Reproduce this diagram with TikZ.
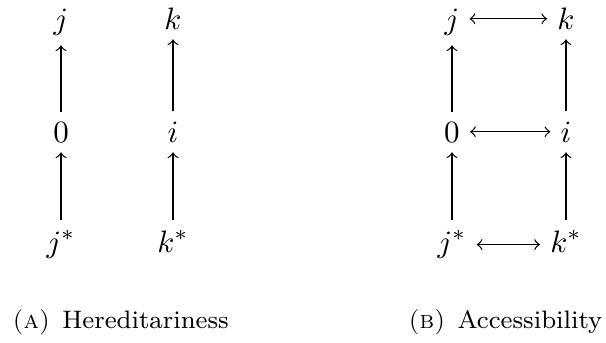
\documentclass[tikz,border=0pt]{standalone}
\begin{document}
\begin{tikzpicture}[x=0.3226pt,y=-0.3226pt,>=to,
  obj/.style={inner sep=0.333em,outer sep=0pt,anchor=base},
  captext/.style={inner sep=0pt,font=\fontsize{8.15}{10}\selectfont},
  arr/.style={->,line width=0.4pt},
  darr/.style={<->,line width=0.4pt}]
\useasboundingbox (0,0) rectangle (606,342);
% (A) Hereditariness
\node[obj] (aj)  at (61,29)  {$j$};
\node[obj] (ak)  at (173,29) {$k$};
\node[obj] (a0)  at (61,142) {$0$};
\node[obj] (ai)  at (173,142) {$i$};
\node[obj] (ajs) at (61,252) {$j^*$};
\node[obj] (aks) at (173,252) {$k^*$};
\draw[arr] (a0) -- (aj);
\draw[arr] (ai) -- (ak);
\draw[arr] (ajs) -- (a0);
\draw[arr] (aks) -- (ai);
\node[captext,anchor=base west] (capa) at (12,328) {\textsc{(a)}\hspace{0.48em}Hereditariness};
% (B) Accessibility
\node[obj] (bj)  at (452,29)  {$j$};
\node[obj] (bk)  at (566,29)  {$k$};
\node[obj] (b0)  at (452,142) {$0$};
\node[obj] (bi)  at (566,142) {$i$};
\node[obj] (bjs) at (452,252) {$j^*$};
\node[obj] (bks) at (566,252) {$k^*$};
\draw[arr] (b0) -- (bj);
\draw[arr] (bi) -- (bk);
\draw[arr] (bjs) -- (b0);
\draw[arr] (bks) -- (bi);
\draw[darr] ([yshift=3.3pt]bj.base east) -- ([yshift=3.3pt]bk.base west);
\draw[darr] ([yshift=3.3pt]b0.base east) -- ([yshift=3.3pt]bi.base west);
\draw[darr] ([yshift=2.4pt]bjs.base east) -- ([yshift=2.4pt]bks.base west);
\node[captext,anchor=base east] (capb) at (603,328) {\textsc{(b)}\hspace{0.48em}Accessibility};
\end{tikzpicture}
\end{document}
